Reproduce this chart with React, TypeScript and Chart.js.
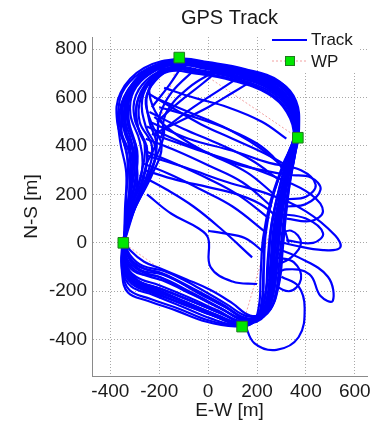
import React, { useEffect, useRef } from 'react';
import { Chart, registerables } from 'chart.js';

Chart.register(...registerables);

const titleText = 'GPS Track';
const xLabel = 'E-W [m]';
const yLabel = 'N-S [m]';
const xTicks = [-400, -200, 0, 200, 400, 600];
const yTicks = [-400, -200, 0, 200, 400, 600, 800];
const legendLabels = ['Track', 'WP'];

// waypoints (E-W, N-S)
const wpX = [-118, 367, 139, -347];
const wpY = [765, 434, -346, 0];
const wpRoute = [0, 1, 2, 3, 0];

// main laps around the course [E-W, N-S]
const lapA: number[][] = [[-345,0],[-340,-85],[-295,-140],[-200,-175],[-80,-225],[40,-280],[140,-325],[215,-300],[252,-200],[262,-60],[278,80],[305,220],[340,360],[362,460],[340,570],[270,650],[130,705],[-20,735],[-130,745],[-240,700],[-320,610],[-330,500],[-290,380],[-300,250],[-330,120],[-345,0]];
const lapB: number[][] = [[-342,5],[-332,-95],[-280,-160],[-180,-195],[-55,-245],[60,-295],[150,-332],[228,-305],[265,-190],[272,-50],[290,90],[315,230],[345,365],[365,470],[345,580],[280,660],[140,712],[-10,740],[-120,752],[-250,710],[-345,600],[-360,480],[-320,360],[-315,230],[-335,110],[-342,5]];
const lapC: number[][] = [[-350,-5],[-348,-105],[-305,-165],[-215,-200],[-95,-245],[25,-295],[130,-330],[205,-295],[238,-190],[248,-50],[262,90],[292,230],[328,370],[356,455],[333,560],[258,635],[118,690],[-22,720],[-112,735],[-220,690],[-285,600],[-290,490],[-250,390],[-265,260],[-315,120],[-350,-5]];
const lapD: number[][] = [[-338,3],[-325,-55],[-280,-100],[-190,-125],[-60,-190],[60,-255],[160,-312],[235,-290],[272,-180],[286,-40],[300,100],[320,240],[350,370],[368,465],[352,575],[287,652],[150,702],[0,732],[-115,744],[-230,705],[-310,625],[-340,520],[-310,400],[-310,260],[-330,120],[-338,3]];
const lapE: number[][] = [[-347,0],[-345,-95],[-308,-160],[-215,-205],[-100,-255],[20,-300],[125,-338],[198,-318],[233,-225],[243,-80],[258,70],[288,210],[324,350],[354,445],[333,555],[262,630],[128,685],[-30,712],[-135,728],[-230,690],[-295,610],[-300,510],[-260,410],[-275,280],[-320,140],[-347,0]];
const lapF: number[][] = [[-340,-2],[-322,-60],[-265,-105],[-170,-135],[-45,-205],[75,-268],[165,-318],[242,-292],[278,-200],[292,-70],[306,70],[326,215],[353,355],[371,455],[356,570],[292,648],[162,697],[12,727],[-100,742],[-212,722],[-292,662],[-338,572],[-335,460],[-310,330],[-325,170],[-340,-2]];
const lapG: number[][] = [[-345,2],[-342,-90],[-298,-150],[-195,-190],[-70,-240],[50,-290],[145,-328],[218,-298],[252,-200],[260,-70],[274,60],[300,200],[337,345],[363,452],[341,565],[271,642],[134,698],[-15,728],[-125,742],[-235,700],[-305,625],[-318,530],[-280,420],[-270,300],[-312,150],[-345,2]];
const lapH: number[][] = [[-352,-3],[-352,-110],[-315,-180],[-225,-215],[-110,-262],[10,-312],[120,-340],[192,-322],[222,-240],[228,-110],[236,40],[264,190],[312,330],[355,448],[330,550],[254,625],[110,680],[-40,710],[-140,722],[-222,680],[-275,600],[-280,500],[-230,400],[-250,280],[-310,140],[-352,-3]];
const lapI: number[][] = [[-343,1],[-330,-70],[-280,-115],[-190,-145],[-65,-210],[55,-272],[152,-320],[226,-300],[263,-210],[276,-80],[291,60],[312,205],[343,350],[366,460],[351,582],[293,666],[150,718],[0,746],[-115,760],[-262,722],[-358,620],[-372,500],[-332,370],[-322,220],[-338,100],[-343,1]];
const lapJ: number[][] = [[-346,0],[-343,-100],[-302,-160],[-205,-198],[-85,-250],[35,-300],[138,-332],[212,-306],[248,-215],[262,-75],[278,70],[305,210],[338,350],[364,458],[342,562],[270,640],[130,700],[-20,730],[-130,740],[-245,695],[-315,615],[-325,510],[-295,395],[-295,260],[-328,125],[-346,0]];
const lapK: number[][] = [[-344,0],[-338,-95],[-293,-155],[-195,-190],[-75,-238],[45,-288],[142,-326],[220,-298],[256,-200],[266,-65],[282,75],[308,215],[342,355],[364,455],[345,565],[275,645],[135,700],[-15,725],[-110,735],[-200,690],[-250,610],[-240,500],[-210,400],[-245,270],[-310,130],[-344,0]];
const lapL: number[][] = [[-349,-2],[-346,-100],[-305,-168],[-210,-210],[-90,-258],[30,-305],[135,-335],[205,-312],[242,-220],[255,-85],[268,65],[296,205],[332,350],[360,452],[338,560],[265,638],[125,695],[-25,725],[-130,740],[-255,705],[-335,615],[-350,500],[-305,385],[-290,250],[-325,120],[-349,-2]];
const lapM: number[][] = [[-346,2],[-348,-120],[-322,-195],[-235,-232],[-120,-272],[0,-320],[115,-342],[188,-328],[218,-250],[226,-120],[232,30],[262,180],[310,325],[352,445],[325,545],[248,620],[105,675],[-50,705],[-150,715],[-230,670],[-270,590],[-255,480],[-215,390],[-240,270],[-305,130],[-346,2]];
const lapN: number[][] = [[-341,3],[-320,-50],[-268,-95],[-175,-118],[-50,-180],[70,-250],[168,-305],[248,-280],[290,-170],[305,-30],[318,110],[335,250],[358,380],[372,470],[360,585],[298,660],[170,705],[20,738],[-100,755],[-225,730],[-300,670],[-345,580],[-355,470],[-330,340],[-335,180],[-341,3]];
const lapO: number[][] = [[-348,-1],[-350,-100],[-312,-170],[-220,-210],[-105,-250],[15,-298],[128,-333],[200,-305],[236,-205],[247,-70],[262,80],[292,220],[330,360],[358,450],[336,552],[262,628],[125,682],[-35,710],[-140,720],[-215,670],[-255,590],[-230,490],[-190,400],[-230,280],[-300,140],[-348,-1]];
const lapP: number[][] = [[-344,0],[-333,-75],[-280,-125],[-188,-155],[-62,-215],[58,-275],[155,-318],[230,-296],[268,-205],[281,-75],[296,65],[318,210],[346,355],[368,462],[355,578],[296,660],[160,712],[5,742],[-110,756],[-250,718],[-340,640],[-368,540],[-360,420],[-335,290],[-340,140],[-344,0]];
const lapQ: number[][] = [[-347,1],[-344,-98],[-300,-158],[-200,-196],[-82,-248],[38,-298],[140,-334],[210,-305],[246,-212],[258,-72],[272,68],[298,208],[333,348],[361,452],[338,560],[268,636],[128,694],[-25,724],[-135,736],[-240,705],[-320,640],[-355,560],[-340,450],[-300,350],[-320,180],[-347,1]];
const lapR: number[][] = [[-343,2],[-335,-80],[-290,-125],[-200,-140],[-68,-205],[52,-270],[148,-322],[222,-300],[258,-205],[270,-68],[286,72],[310,212],[340,352],[365,458],[346,568],[278,648],[140,702],[-10,732],[-120,746],[-200,710],[-240,640],[-225,560],[-180,470],[-210,360],[-290,170],[-343,2]];
const lapS: number[][] = [[-350,0],[-352,-125],[-328,-205],[-245,-240],[-130,-280],[-10,-325],[110,-345],[180,-332],[208,-260],[215,-130],[225,20],[255,170],[305,320],[350,440],[322,540],[245,615],[100,670],[-55,700],[-160,708],[-240,660],[-290,580],[-285,470],[-250,380],[-270,260],[-320,130],[-350,0]];
const lapT: number[][] = [[-342,3],[-326,-62],[-275,-112],[-185,-132],[-55,-195],[65,-262],[162,-315],[244,-288],[284,-190],[300,-50],[314,90],[332,235],[356,368],[370,466],[357,580],[294,656],[165,708],[15,738],[-105,752],[-235,712],[-318,630],[-345,525],[-325,410],[-318,270],[-332,130],[-342,3]];
const lapU: number[][] = [[-340,4],[-318,-32],[-262,-78],[-190,-108],[-90,-150],[10,-195],[100,-250],[172,-300],[238,-282],[270,-190],[282,-60],[296,80],[318,225],[348,362],[369,462],[350,575],[284,652],[145,706],[-5,734],[-118,748],[-232,708],[-308,628],[-332,522],[-300,400],[-296,262],[-326,128],[-340,4]];

// cross-course passes and excursions
const pass1: number[][] = [[-180,640],[-60,600],[80,560],[220,500],[320,430]];
const pass2: number[][] = [[-220,600],[-80,540],[60,480],[200,400],[300,320]];
const pass3: number[][] = [[-240,540],[-100,470],[40,410],[180,340],[290,260]];
const pass4: number[][] = [[-250,480],[-120,420],[20,360],[160,290],[270,200]];
const pass5: number[][] = [[-255,430],[-130,380],[0,320],[140,250],[260,150]];
const pass6: number[][] = [[-260,380],[-140,330],[-10,270],[120,200],[250,100]];
const pass7: number[][] = [[-270,330],[-150,280],[-30,220],[100,150],[240,40]];
const pass8: number[][] = [[-280,280],[-170,220],[-60,150],[50,60],[180,-60]];
const pass9: number[][] = [[-240,500],[-80,430],[100,380],[250,330],[380,300],[440,240],[400,190],[320,180]];
const pass10: number[][] = [[-230,450],[-60,390],[120,330],[280,270],[420,200],[470,130],[420,90],[320,100]];
const pass11: number[][] = [[-250,360],[-90,310],[80,250],[250,200],[400,130],[520,30],[540,-20],[470,-30],[350,-10],[270,10]];
const pass12: number[][] = [[50,720],[-20,660],[-120,580],[-210,500]];
const pass13: number[][] = [[150,700],[60,640],[-60,560],[-180,470]];
const pass14: number[][] = [[-100,740],[-160,650],[-230,560]];
const pass15: number[][] = [[-250,200],[-150,120],[-40,60],[0,20],[10,-100],[100,-160],[200,-170]];
const pass16: number[][] = [[0,50],[60,40],[150,20],[230,-40]];
const pass17: number[][] = [[-200,560],[-60,520],[80,470],[200,410],[280,340],[330,260]];
const pass18: number[][] = [[-260,300],[-130,260],[0,230],[120,200],[230,150],[300,80],[330,0]];
const pass19: number[][] = [[-220,520],[-120,440],[-20,380],[100,330],[220,300],[330,280],[420,270],[460,220],[400,160],[320,150]];
const pass20: number[][] = [[-250,620],[-150,560],[-30,490],[100,430],[230,370],[320,320]];
const pass21: number[][] = [[-50,720],[-150,620],[-200,520],[-210,420],[-250,330]];
const pass22: number[][] = [[30,710],[-80,640],[-170,540],[-190,440]];
const pass23: number[][] = [[200,680],[100,620],[0,560],[-120,500],[-220,450]];
const excursion1: number[][] = [[270,-20],[370,-60],[490,-140],[510,-240],[460,-220],[415,-130],[320,-110],[260,-140]];
const excursion2: number[][] = [[150,-335],[190,-415],[280,-442],[370,-390],[395,-270],[370,-180],[300,-140]];
const excursion3: number[][] = [[290,120],[400,100],[470,40],[430,0],[320,10]];
const excursion4: number[][] = [[260,-100],[340,-60],[380,0],[340,50],[280,30]];
const excursion5: number[][] = [[240,-150],[330,-200],[380,-150],[350,-80],[280,-60]];

const trackSegments = [
  lapA, lapB, lapC, lapD, lapE, lapF, lapG, lapH, lapI, lapJ, lapK, lapL,
  lapM, lapN, lapO, lapP, lapQ, lapR, lapS, lapT, lapU,
  pass1, pass2, pass3, pass4, pass5, pass6, pass7, pass8, pass9, pass10,
  pass11, pass12, pass13, pass14, pass15, pass16, pass17, pass18, pass19,
  pass20, pass21, pass22, pass23,
  excursion1, excursion2, excursion3, excursion4, excursion5,
];

const FONT = '"Liberation Sans", Arial, Helvetica, sans-serif';
const TRACK_COLOR = '#0000ff';
const WP_FILL = '#00e600';
const WP_EDGE = '#207a20';
const WP_LINE = '#f2a0a0';

const overlayPlugin = {
  id: 'overlay',
  afterDraw(chart: any) {
    const { ctx, chartArea } = chart;
    ctx.save();
    ctx.fillStyle = '#1a1a1a';
    ctx.font = `20px ${FONT}`;
    ctx.textAlign = 'center';
    ctx.textBaseline = 'middle';
    ctx.fillText(titleText, (chartArea.left + chartArea.right) / 2, 18);
    ctx.fillStyle = '#ffffff';
    ctx.fillRect(266, 27, 92, 45);
    ctx.strokeStyle = TRACK_COLOR;
    ctx.lineWidth = 2;
    ctx.beginPath();
    ctx.moveTo(272, 40);
    ctx.lineTo(307, 40);
    ctx.stroke();
    ctx.strokeStyle = WP_LINE;
    ctx.lineWidth = 1;
    ctx.setLineDash([2, 2]);
    ctx.beginPath();
    ctx.moveTo(272, 61);
    ctx.lineTo(307, 61);
    ctx.stroke();
    ctx.setLineDash([]);
    ctx.fillStyle = WP_FILL;
    ctx.fillRect(285, 56, 10, 10);
    ctx.strokeStyle = WP_EDGE;
    ctx.strokeRect(285.5, 56.5, 9, 9);
    ctx.fillStyle = '#1a1a1a';
    ctx.font = `17px ${FONT}`;
    ctx.textAlign = 'left';
    ctx.fillText(legendLabels[0], 311, 40);
    ctx.fillText(legendLabels[1], 311, 62);
    ctx.restore();
  },
};

export default function App() {
  const ref = useRef<HTMLCanvasElement | null>(null);

  useEffect(() => {
    if (!ref.current) return;
    const trackSets = trackSegments.map((seg, i) => ({
      label: i === 0 ? legendLabels[0] : '',
      data: seg.map((p) => ({ x: p[0], y: p[1] })),
      showLine: true,
      borderColor: TRACK_COLOR,
      backgroundColor: TRACK_COLOR,
      borderWidth: 2.2,
      pointRadius: 0,
      tension: 0.4,
      fill: false,
      order: 1,
    }));
    const chart = new Chart(ref.current, {
      type: 'scatter',
      data: {
        datasets: [
          {
            label: legendLabels[1],
            data: wpX.map((x, i) => ({ x, y: wpY[i] })),
            showLine: false,
            pointStyle: 'rect',
            pointRadius: 7.5,
            backgroundColor: WP_FILL,
            borderColor: WP_EDGE,
            borderWidth: 1,
            order: 0,
          },
          {
            label: 'route',
            data: wpRoute.map((k) => ({ x: wpX[k], y: wpY[k] })),
            showLine: true,
            borderColor: WP_LINE,
            borderWidth: 1,
            borderDash: [2, 2],
            pointRadius: 0,
            tension: 0,
            order: 2,
          },
          ...trackSets,
        ] as any,
      },
      options: {
        animation: false,
        responsive: true,
        maintainAspectRatio: false,
        layout: { padding: { top: 37, right: 18, left: 0, bottom: 0 } },
        plugins: {
          legend: { display: false },
          tooltip: { enabled: false },
          title: { display: false },
        },
        scales: {
          x: {
            type: 'linear',
            min: -475,
            max: 650,
            afterBuildTicks: (s: any) => {
              s.ticks = xTicks.map((v) => ({ value: v }));
            },
            afterFit: (s: any) => {
              s.height = 47;
            },
            grid: { color: '#a8a8a8', lineWidth: 1, drawTicks: false },
            border: { display: true, color: '#8a8a8a', width: 1, dash: [1, 2] },
            ticks: {
              color: '#1a1a1a',
              font: { family: FONT, size: 19 },
              padding: 4,
              maxRotation: 0,
              autoSkip: false,
            },
            title: {
              display: true,
              text: xLabel,
              color: '#1a1a1a',
              font: { family: FONT, size: 19 },
              padding: { top: 0, bottom: 1 },
            },
          },
          y: {
            type: 'linear',
            min: -550,
            max: 850,
            afterBuildTicks: (s: any) => {
              s.ticks = yTicks.map((v) => ({ value: v }));
            },
            afterFit: (s: any) => {
              s.width = 92;
            },
            grid: { color: '#a8a8a8', lineWidth: 1, drawTicks: false },
            border: { display: true, color: '#8a8a8a', width: 1, dash: [1, 2] },
            ticks: {
              color: '#1a1a1a',
              font: { family: FONT, size: 19 },
              padding: 5,
              autoSkip: false,
            },
            title: {
              display: true,
              text: yLabel,
              color: '#1a1a1a',
              font: { family: FONT, size: 19 },
              padding: { top: 20, bottom: 0 },
            },
          },
        },
      },
      plugins: [overlayPlugin],
    });
    return () => chart.destroy();
  }, []);

  return (
    <div style={{ position: 'fixed', left: 0, top: 0, width: 385, height: 423, background: '#fff' }}>
      <canvas ref={ref} />
    </div>
  );
}
